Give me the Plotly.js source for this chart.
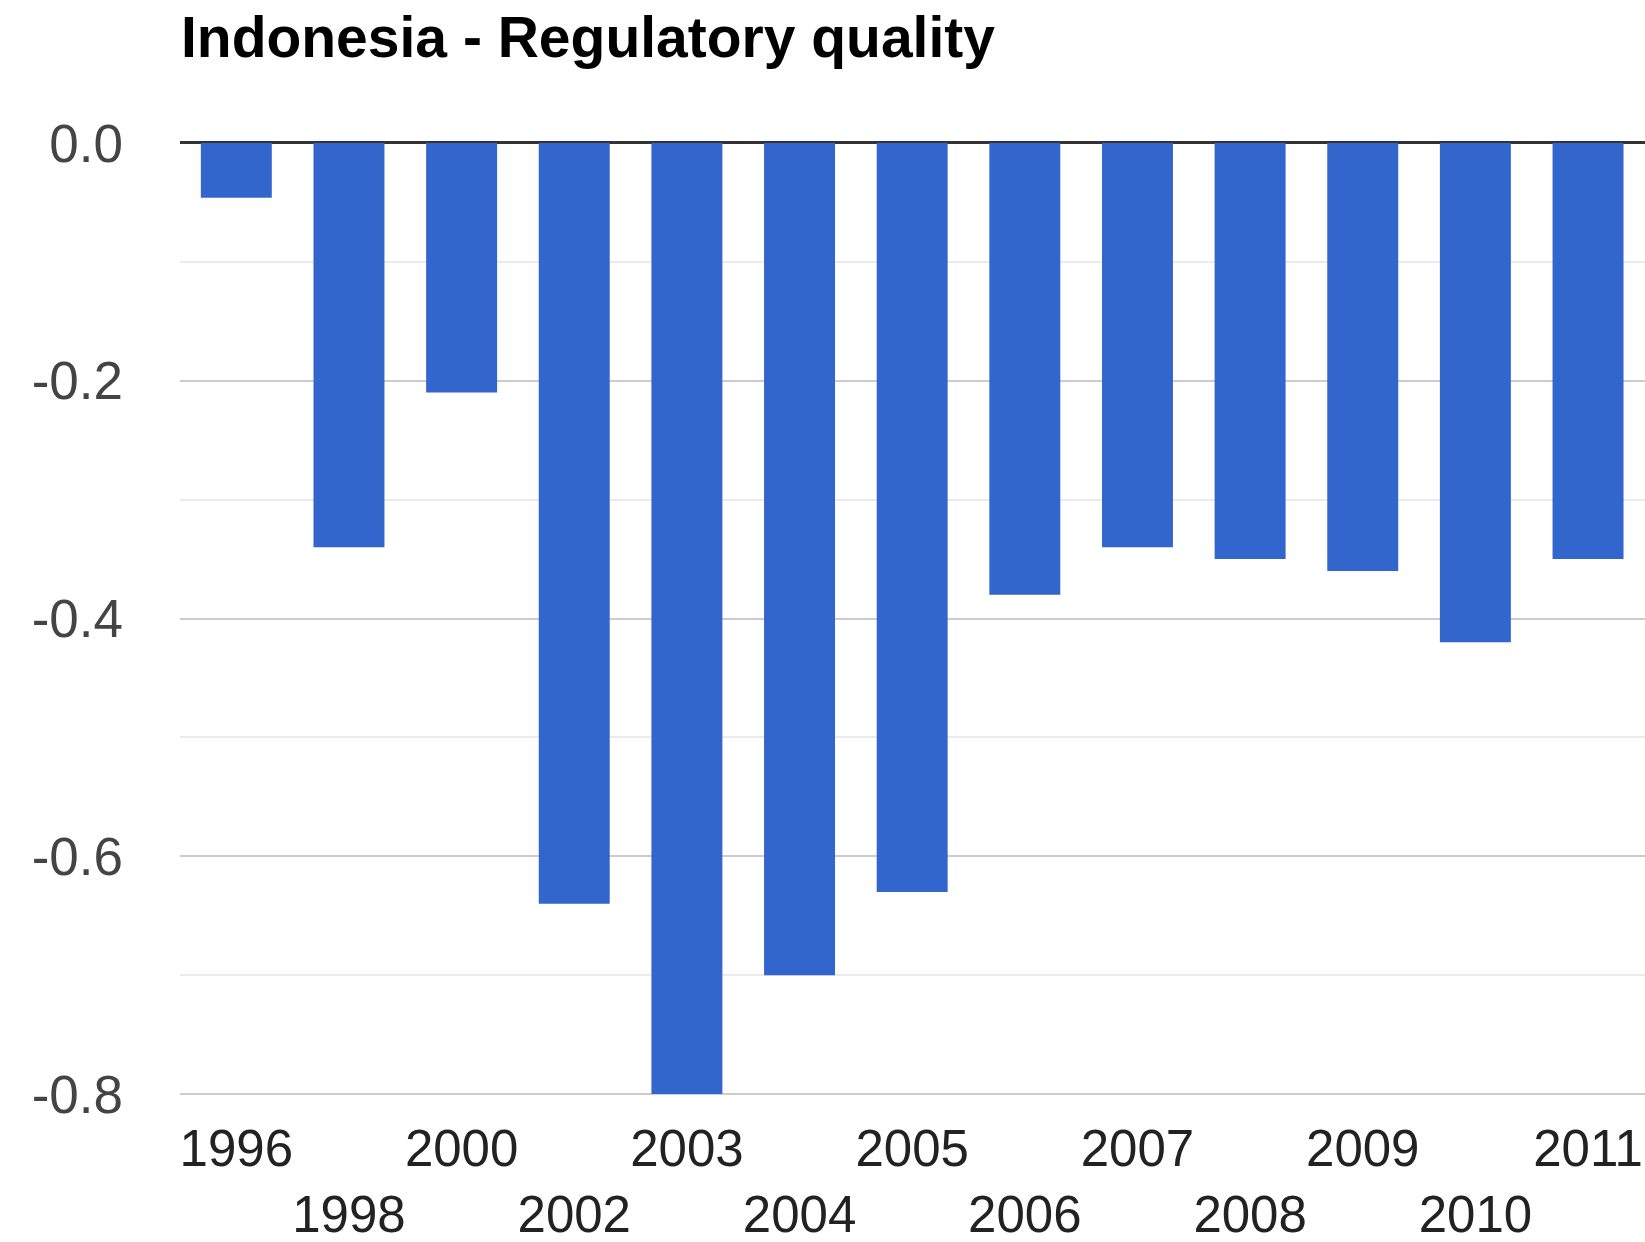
<!DOCTYPE html>
<html>
<head>
<meta charset="utf-8">
<script src="https://cdn.plot.ly/plotly-3.0.1.min.js"></script>
<style>
  html, body { margin: 0; padding: 0; overflow: hidden; background: #ffffff; }
  #chart { width: 1800px; height: 1242px; }
</style>
</head>
<body>
<div id="chart"></div>
<script>
// Data
var years = ['1996', '1998', '2000', '2002', '2003', '2004', '2005', '2006', '2007', '2008', '2009', '2010', '2011'];
var values = [-0.046, -0.34, -0.21, -0.64, -0.80, -0.70, -0.63, -0.38, -0.34, -0.35, -0.36, -0.42, -0.35];
// Axis categories (the chart is cropped on the right; 2012 label is partially visible)
var axisYears = ['1996', '1998', '2000', '2002', '2003', '2004', '2005', '2006', '2007', '2008', '2009', '2010', '2011', '2012'];
var yTickValues = [0, -0.2, -0.4, -0.6, -0.8];
var yTickLabels = ['0.0', '-0.2', '-0.4', '-0.6', '-0.8'];
var chartTitle = 'Indonesia - Regulatory quality';

var xTickText = axisYears.map(function (y, i) { return i % 2 === 0 ? y : '<br>' + y; });

var FONT = 'Arial, "Liberation Sans", sans-serif';

var trace = {
  type: 'bar',
  x: years,
  y: values,
  marker: { color: '#3366cc', line: { width: 0 } },
  hoverinfo: 'x+y'
};

var layout = {
  width: 1800,
  height: 1242,
  margin: { l: 180, r: 43, t: 140, b: 145, pad: 0 },
  paper_bgcolor: '#ffffff',
  plot_bgcolor: '#ffffff',
  showlegend: false,
  bargap: 0.37,
  font: { family: FONT, size: 53, color: '#222222' },
  title: {
    text: '<b>' + chartTitle + '</b>',
    font: { family: FONT, size: 57, color: '#000000' },
    xref: 'container', x: 181 / 1800, xanchor: 'left',
    yref: 'container', y: 1 - 37 / 1242, yanchor: 'middle'
  },
  xaxis: {
    type: 'category',
    categoryorder: 'array',
    categoryarray: axisYears,
    range: [-0.5, axisYears.length - 0.5],
    tickmode: 'array',
    tickvals: axisYears,
    ticktext: xTickText,
    tickangle: 0,
    ticks: '',
    showgrid: false,
    zeroline: false,
    showline: false,
    tickfont: { family: FONT, size: 51, color: '#222222' },
    ticklabelstandoff: 17,
    fixedrange: true
  },
  yaxis: {
    range: [-0.8025, 0.0025],
    tickmode: 'array',
    tickvals: yTickValues,
    ticktext: yTickLabels,
    ticks: '',
    showgrid: true,
    gridcolor: '#cccccc',
    gridwidth: 2,
    minor: { dtick: 0.1, showgrid: true, gridcolor: '#ebebeb', gridwidth: 2, ticks: '' },
    zeroline: true,
    zerolinecolor: '#333333',
    zerolinewidth: 3,
    showline: false,
    tickfont: { family: FONT, size: 53, color: '#444444' },
    ticklabelstandoff: 56,
    fixedrange: true
  }
};

Plotly.newPlot('chart', [trace], layout, { displayModeBar: false, staticPlot: true });
</script>
</body>
</html>
